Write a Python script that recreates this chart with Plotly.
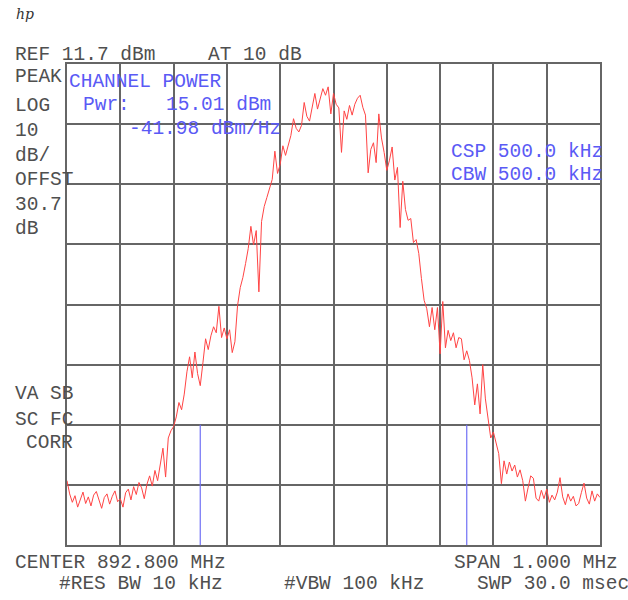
import numpy as np
import plotly.graph_objects as go

# Analyzer settings
center_mhz = 892.800
span_mhz = 1.000
ref_dbm = 11.7
db_per_div = 10
n_div_y = 8
csp_khz = 500.0
cbw_khz = 500.0

# Swept trace (dBm), 201 points across the span
trace_dbm = [
    -57.6, -59.8, -61.2, -60.1, -62.0, -60.6, -59.5, -61.4, -60.3, -61.8,
    -60.0, -59.4, -61.0, -62.2, -60.4, -59.8, -61.5, -60.2, -59.3, -61.1,
    -60.6, -62.0, -59.6, -59.0, -60.8, -58.6, -59.9, -57.9, -58.8, -60.6,
    -58.2, -56.8, -58.5, -55.9, -57.6, -54.9, -52.2, -57.0, -50.5, -49.3,
    -48.6, -47.0, -44.6, -45.8, -43.2, -39.5, -37.0, -40.5, -36.2, -39.8,
    -41.8, -38.0, -34.0, -35.8, -33.5, -32.0, -33.0, -28.6, -33.8, -32.2,
    -34.0, -32.5, -36.3, -34.5, -28.5, -25.5, -23.8, -21.5, -19.0, -15.3,
    -18.4, -16.0, -26.2, -14.5, -12.0, -10.5, -9.0, -7.5, -2.8, -6.5,
    -5.0, -1.9, -3.5, -1.6, -0.2, 2.6, 1.0, 0.4, 1.5, 5.3,
    3.0, 2.2, 4.4, 6.8, 4.2, 6.0, 7.6, 6.5, 7.9, 3.4,
    6.8, 5.0, 4.4, -3.0, 3.9, 2.5, 4.8, 3.2, 5.0, 6.0,
    6.5, 4.5, 3.2, -6.4, -2.5, -1.4, -4.7, 3.4, -0.6, -3.0,
    -6.0, -4.3, -2.1, -7.6, -5.5, -15.5, -7.8, -12.5, -14.3, -14.0,
    -18.0, -17.5, -19.8, -24.0, -27.6, -29.0, -32.0, -28.8, -32.5, -28.8,
    -36.5, -27.8, -35.5, -32.6, -34.3, -33.0, -35.5, -33.8, -34.0, -37.5,
    -36.0, -37.6, -40.5, -45.0, -41.5, -46.5, -38.3, -44.0, -47.2, -50.5,
    -49.5, -51.5, -53.1, -58.1, -54.3, -56.5, -54.5, -56.0, -55.0, -57.0,
    -55.8, -57.6, -61.0, -58.8, -56.8, -57.2, -60.5, -61.0, -59.2, -60.6,
    -59.0, -61.2, -60.0, -60.8, -59.5, -57.1, -60.3, -61.6, -59.8, -61.0,
    -60.2, -61.8, -61.4, -59.6, -58.0, -60.5, -61.5, -59.3, -61.0, -59.8,
    -60.4,
]

f_start = center_mhz - span_mhz / 2
f_stop = center_mhz + span_mhz / 2
freq_mhz = np.linspace(f_start, f_stop, len(trace_dbm))
y_bottom = ref_dbm - db_per_div * n_div_y

# Channel edges: centre +/- half the channel bandwidth
ch_lo = center_mhz - cbw_khz / 2000
ch_hi = center_mhz + cbw_khz / 2000

W, H = 628, 600
L, R, T, B = 67, 28, 64, 55
PW, PH = W - L - R, H - T - B

def px(x):
    return (x - L) / PW

def py(y):
    return (H - B - y) / PH

FONT = "Liberation Mono, Courier New, monospace"
GRAY = "#4f4f4f"
BLUE = "#5a5af5"

fig = go.Figure()
fig.add_trace(go.Scatter(
    x=freq_mhz, y=trace_dbm, mode="lines",
    line=dict(color="#ff4444", width=1), hoverinfo="skip",
))

# Channel bandwidth markers
for xm in (ch_lo, ch_hi):
    fig.add_shape(type="line", x0=xm, x1=xm, y0=ref_dbm - 60, y1=y_bottom,
                  xref="x", yref="y", line=dict(color="#6f6ff5", width=1.2))

annots = []

def label(text, x, y, color=GRAY, size=19.5):
    annots.append(dict(text=text, x=px(x), y=py(y), xref="paper", yref="paper",
                       xanchor="left", yanchor="middle", showarrow=False,
                       font=dict(family=FONT, size=size, color=color)))

label("REF 11.7 dBm", 13, 55)
label("AT 10 dB", 206, 55)
for txt, yy in [("PEAK", 77), ("LOG", 106), ("10", 131), ("dB/", 156),
                ("OFFST", 180), ("30.7", 205), ("dB", 229),
                ("VA SB", 394), ("SC FC", 420)]:
    label(txt, 13, yy)
label("CORR", 24, 443)
label("CENTER 892.800 MHz", 13, 563)
label("#RES BW 10 kHz", 57, 584)
label("#VBW 100 kHz", 282, 584)
label("SPAN 1.000 MHz", 452, 563)
label("SWP 30.0 msec", 475, 584)

label("CHANNEL POWER", 67, 82, BLUE)
label("Pwr:", 81, 105, BLUE)
label("15.01 dBm", 164, 105, BLUE)
label("-41.98 dBm/Hz", 127, 129, BLUE)
label("CSP 500.0 kHz", 449, 152, BLUE)
label("CBW 500.0 kHz", 449, 175, BLUE)

annots.append(dict(text="<i>hp</i>", x=px(14), y=py(14), xref="paper", yref="paper",
                   xanchor="left", yanchor="middle", showarrow=False,
                   font=dict(family="DejaVu Serif", size=14, color="#333333")))

grid = dict(showgrid=True, gridcolor="#666666", gridwidth=1.5, zeroline=False,
            showticklabels=False, ticks="", showline=True, linecolor="#666666",
            linewidth=1.5, mirror=True)

fig.update_layout(
    width=W, height=H, margin=dict(l=L, r=R, t=T, b=B),
    paper_bgcolor="white", plot_bgcolor="white", showlegend=False,
    xaxis=dict(range=[f_start, f_stop], tick0=f_start, dtick=span_mhz / 10, **grid),
    yaxis=dict(range=[y_bottom, ref_dbm], tick0=ref_dbm, dtick=db_per_div, **grid),
    annotations=annots,
)

fig.write_html("out.html")
